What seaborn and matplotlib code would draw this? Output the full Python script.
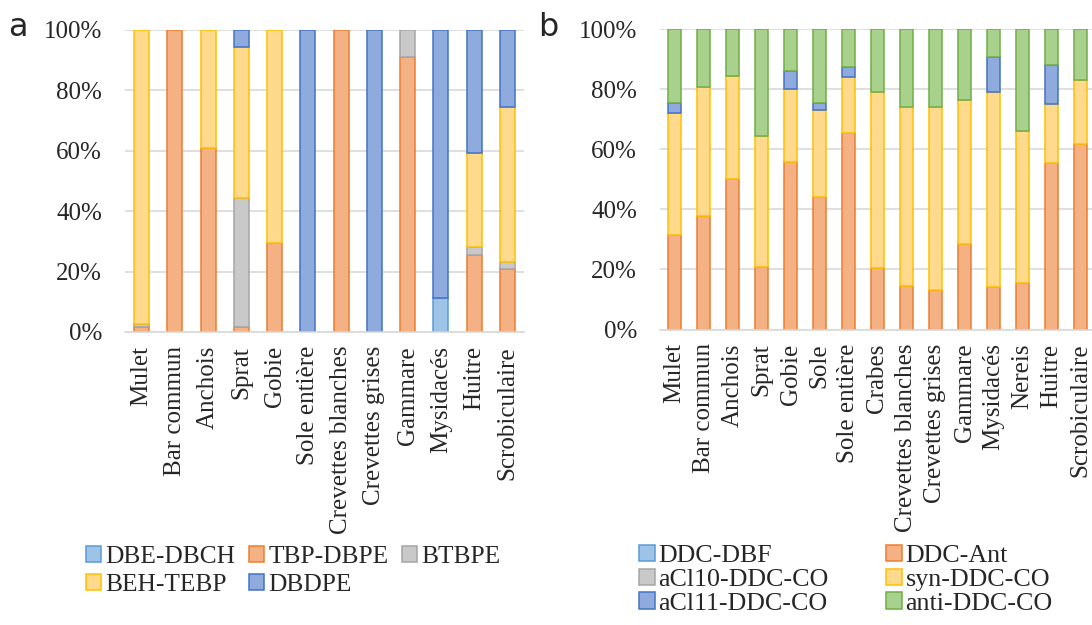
import numpy as np
import seaborn as sns
import matplotlib.pyplot as plt
from matplotlib.patches import Patch

# panel a data (%)
cats_a = ['Mulet', 'Bar commun', 'Anchois', 'Sprat', 'Gobie', 'Sole entière',
          'Crevettes blanches', 'Crevettes grises', 'Gammare', 'Mysidacés',
          'Huitre', 'Scrobiculaire']
dbe_dbch = [0, 0, 0, 0, 0, 0, 0, 0, 0, 11.4, 0, 0]
tbp_dbpe = [1.5, 100, 61, 1.5, 29.4, 0, 100, 0, 91, 0, 25.5, 20.8]
btbpe = [1.0, 0, 0, 42.8, 0, 0, 0, 0, 9, 0, 2.5, 2.5]
beh_tebp = [97.5, 0, 39, 50.0, 70.6, 0, 0, 0, 0, 0, 31.2, 51.1]
dbdpe = [0, 0, 0, 5.7, 0, 100, 0, 100, 0, 88.6, 40.8, 25.6]

# panel b data (%)
cats_b = ['Mulet', 'Bar commun', 'Anchois', 'Sprat', 'Gobie', 'Sole',
          'Sole entière', 'Crabes', 'Crevettes blanches', 'Crevettes grises',
          'Gammare', 'Mysidacés', 'Nereis', 'Huitre', 'Scrobiculaire']
ddc_dbf = [0] * 15
ddc_ant = [31.3, 37.7, 50.2, 20.8, 55.8, 44.2, 65.3, 20.5, 14.5, 13.3, 28.4, 14.0, 15.5, 55.3, 61.7]
acl10 = [0] * 15
syn_ddc = [40.6, 42.9, 34.1, 43.6, 24.1, 28.8, 18.8, 58.6, 59.4, 60.6, 48.0, 65.1, 50.6, 19.6, 21.3]
acl11 = [3.6, 0, 0, 0, 6.1, 2.5, 3.4, 0, 0, 0, 0, 11.7, 0, 13.1, 0]
anti_ddc = [24.5, 19.4, 15.7, 35.6, 14.0, 24.5, 12.5, 20.9, 26.1, 26.1, 23.6, 9.2, 33.9, 12.0, 17.0]

# (fill, edge)
colors = {
    'DBE-DBCH': ('#9DC3E6', '#5B9BD5'),
    'TBP-DBPE': ('#F4B183', '#ED7D31'),
    'BTBPE': ('#C9C9C9', '#A5A5A5'),
    'BEH-TEBP': ('#FFD98C', '#FFC000'),
    'DBDPE': ('#8FAADC', '#4472C4'),
    'DDC-DBF': ('#9DC3E6', '#5B9BD5'),
    'DDC-Ant': ('#F4B183', '#ED7D31'),
    'aCl10-DDC-CO': ('#C9C9C9', '#A5A5A5'),
    'syn-DDC-CO': ('#FFD98C', '#FFC000'),
    'aCl11-DDC-CO': ('#8FAADC', '#4472C4'),
    'anti-DDC-CO': ('#A9D18E', '#70AD47'),
}

sns.set_theme(style='white')
plt.rcParams['font.family'] = ['Liberation Serif', 'DejaVu Serif']

fig = plt.figure(figsize=(10.92, 6.25), dpi=100)
ax_a = fig.add_axes([125 / 1092, 1 - 332 / 625, 399 / 1092, 302 / 625])
ax_b = fig.add_axes([660 / 1092, 1 - 329.5 / 625, 435 / 1092, 300.5 / 625])


def stack(ax, cats, series, width):
    bottom = np.zeros(len(cats))
    for name, vals in series:
        vals = np.array(vals, dtype=float)
        fill, edge = colors[name]
        mask = vals > 0
        sns.barplot(x=list(np.array(cats)[mask]), y=vals[mask], bottom=bottom[mask],
                    order=cats, color=fill, edgecolor=edge, linewidth=1.1,
                    width=width, saturation=1, ax=ax)
        bottom += vals
    ax.set_ylim(0, 100)
    ax.set_xlim(-0.5, len(cats) - 0.5)
    ax.set_yticks([0, 20, 40, 60, 80, 100])
    ax.set_yticklabels(['0%', '20%', '40%', '60%', '80%', '100%'], fontsize=18)
    ax.set_xticks(range(len(cats)))
    ax.set_xticklabels(cats, rotation=90, fontsize=18)
    ax.tick_params(axis='x', pad=10, length=0)
    ax.tick_params(axis='y', pad=16.5, length=0)
    ax.grid(axis='y', color='#d9d9d9', linewidth=1.2)
    ax.set_axisbelow(True)
    for s in ['top', 'right', 'left']:
        ax.spines[s].set_visible(False)
    ax.spines['bottom'].set_color('#d9d9d9')
    ax.spines['bottom'].set_linewidth(1.2)
    ax.set_xlabel('')
    ax.set_ylabel('')


stack(ax_a, cats_a, [('DBE-DBCH', dbe_dbch), ('TBP-DBPE', tbp_dbpe), ('BTBPE', btbpe),
                     ('BEH-TEBP', beh_tebp), ('DBDPE', dbdpe)], 0.45)
stack(ax_b, cats_b, [('DDC-DBF', ddc_dbf), ('DDC-Ant', ddc_ant), ('aCl10-DDC-CO', acl10),
                     ('syn-DDC-CO', syn_ddc), ('aCl11-DDC-CO', acl11), ('anti-DDC-CO', anti_ddc)], 0.42)


def handles(names):
    return [Patch(facecolor=colors[n][0], edgecolor=colors[n][1], linewidth=1.1, label=n)
            for n in names]


fig.legend(handles=handles(['DBE-DBCH', 'BEH-TEBP', 'TBP-DBPE', 'DBDPE', 'BTBPE']),
           loc='upper left', bbox_to_anchor=(86 / 1092, 1 - 546 / 625), ncol=3,
           frameon=False, fontsize=18.3, handlelength=0.6, handleheight=0.6,
           handletextpad=0.15, columnspacing=0.55, labelspacing=0.22,
           borderpad=0, borderaxespad=0)
fig.legend(handles=handles(['DDC-DBF', 'aCl10-DDC-CO', 'aCl11-DDC-CO',
                            'DDC-Ant', 'syn-DDC-CO', 'anti-DDC-CO']),
           loc='upper left', bbox_to_anchor=(639 / 1092, 1 - 545 / 625), ncol=2,
           frameon=False, fontsize=18.7, handlelength=0.6, handleheight=0.6,
           handletextpad=0.15, columnspacing=2.2, labelspacing=0.05,
           borderpad=0, borderaxespad=0)

fig.text(8 / 1092, 1 - 28 / 625, 'a', fontsize=23, family='DejaVu Sans', va='center')
fig.text(538 / 1092, 1 - 28 / 625, 'b', fontsize=23, family='DejaVu Sans', va='center')

fig.savefig('out.png', dpi=100)
